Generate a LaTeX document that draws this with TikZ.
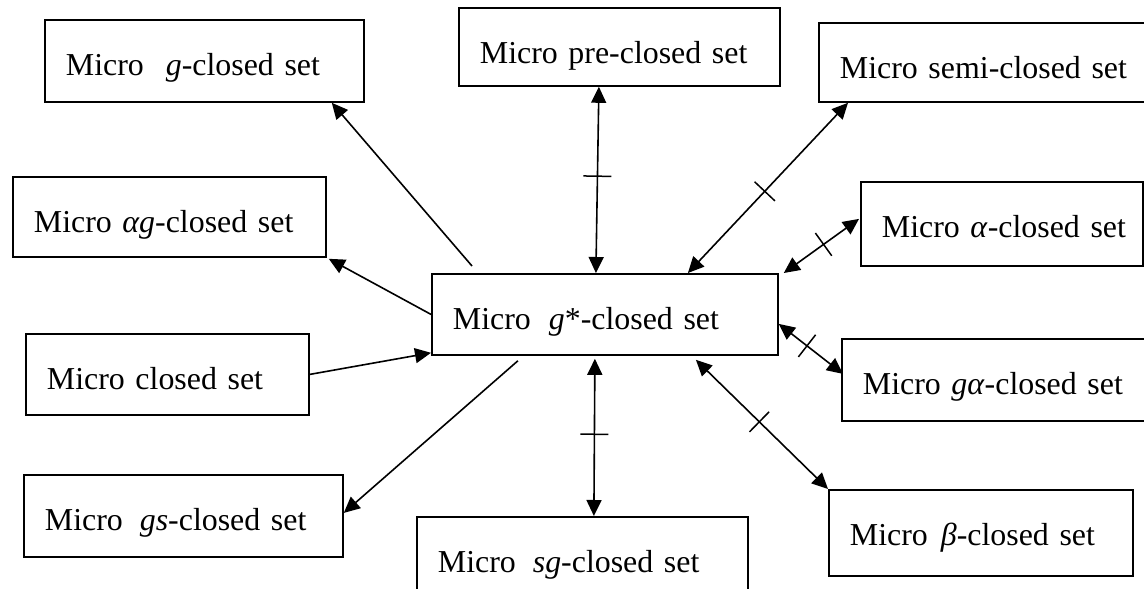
\documentclass[tikz,border=0pt]{standalone}
\usepackage{fontspec}
\setmainfont{Liberation Serif}
\usetikzlibrary{arrows.meta,decorations.markings,calc}

% italic symbols inside the labels
\newcommand{\mi}[1]{\textit{#1}}

\tikzset{
  box/.style 2 args={draw, line width=1.8pt, anchor=north west,
    inner xsep=21pt, inner ysep=0pt, text height=56pt, text depth=#2,
    text width=#1, align=left, font=\fontsize{31.9}{36}\selectfont},
  conn/.style={line width=1.6pt},
  one/.style={conn, -{Triangle[length=16pt,width=15pt]}},
  two/.style={conn, {Triangle[length=16pt,width=15pt]}-{Triangle[length=16pt,width=15pt]}},
  negated/.style={postaction={decorate, decoration={markings,
    mark=at position #1 with {\draw[-,line width=1.5pt] (0pt,-14pt) -- (0pt,14pt);}}}}
}

\begin{document}
\begin{tikzpicture}[x=1pt,y=-1pt]
\useasboundingbox (0,0) rectangle (1144,589);

% boxes
\node[box={277pt}{26pt}] (bg)     at (44,19)   {\mbox{Micro\hspace{22pt}\mi{g}-closed set}};
\node[box={279pt}{22pt}] (bpre)   at (458,7)   {\mbox{Micro pre-closed set}};
\node[box={290pt}{23pt}] (bsemi)  at (818,22)  {\mbox{Micro semi-closed set}};
\node[box={271pt}{24pt}] (bag)    at (12,176)  {\mbox{Micro \mi{αg}-closed set}};
\node[box={240pt}{28pt}] (balpha) at (860,181) {\mbox{Micro \mi{α}-closed set}};
\node[box={304pt}{25pt}] (bcenter) at (431,273) {\mbox{Micro\hspace{18pt}\mi{g}*-closed set}};
\node[box={241pt}{25pt}] (bclosed) at (25,333) {\mbox{Micro closed set}};
\node[box={267pt}{26pt}] (bga)    at (841,338) {\mbox{Micro \mi{gα}-closed set}};
\node[box={277pt}{26pt}] (bgs)    at (23,474)  {\mbox{Micro\hspace{17pt}\mi{gs}-closed set}};
\node[box={289pt}{38pt}] (bsg)    at (416,516) {\mbox{Micro\hspace{17pt}\mi{sg}-closed set}};
\node[box={262pt}{30pt}] (bbeta)  at (828,489) {\mbox{Micro\hspace{13pt}\mi{β}-closed set}};

% connectors
\draw[one] ([xshift=41pt,yshift=7pt]bcenter.north west) -- ([xshift=-33pt]bg.south east);
\draw[two,negated=0.52] ([xshift=-9pt]bcenter.north) -- ([xshift=-20.5pt]bpre.south);
\draw[two,negated=0.48] ([xshift=83pt]bcenter.north) -- ([xshift=30pt]bsemi.south west);
\draw[two,negated=0.53] ([xshift=5pt]bcenter.north east) -- ([xshift=-1pt,yshift=5pt]balpha.west);
\draw[one] (bcenter.west) -- ([xshift=2pt,yshift=-1pt]bag.south east);
\draw[one] (bclosed.east) -- ([yshift=3pt]bcenter.south west);
\draw[one] ([xshift=-87pt,yshift=-5pt]bcenter.south) -- ([yshift=3pt]bgs.east);
\draw[two,negated=0.48] ([xshift=-10pt,yshift=-3pt]bcenter.south) -- ([xshift=11.5pt]bsg.north);
\draw[two,negated=0.44] ([yshift=-9.5pt]bcenter.east) -- ([xshift=2pt,yshift=6pt]bga.west);
\draw[two,negated=0.48] ([xshift=91pt,yshift=-4pt]bcenter.south) -- (bbeta.north west);
\end{tikzpicture}
\end{document}
